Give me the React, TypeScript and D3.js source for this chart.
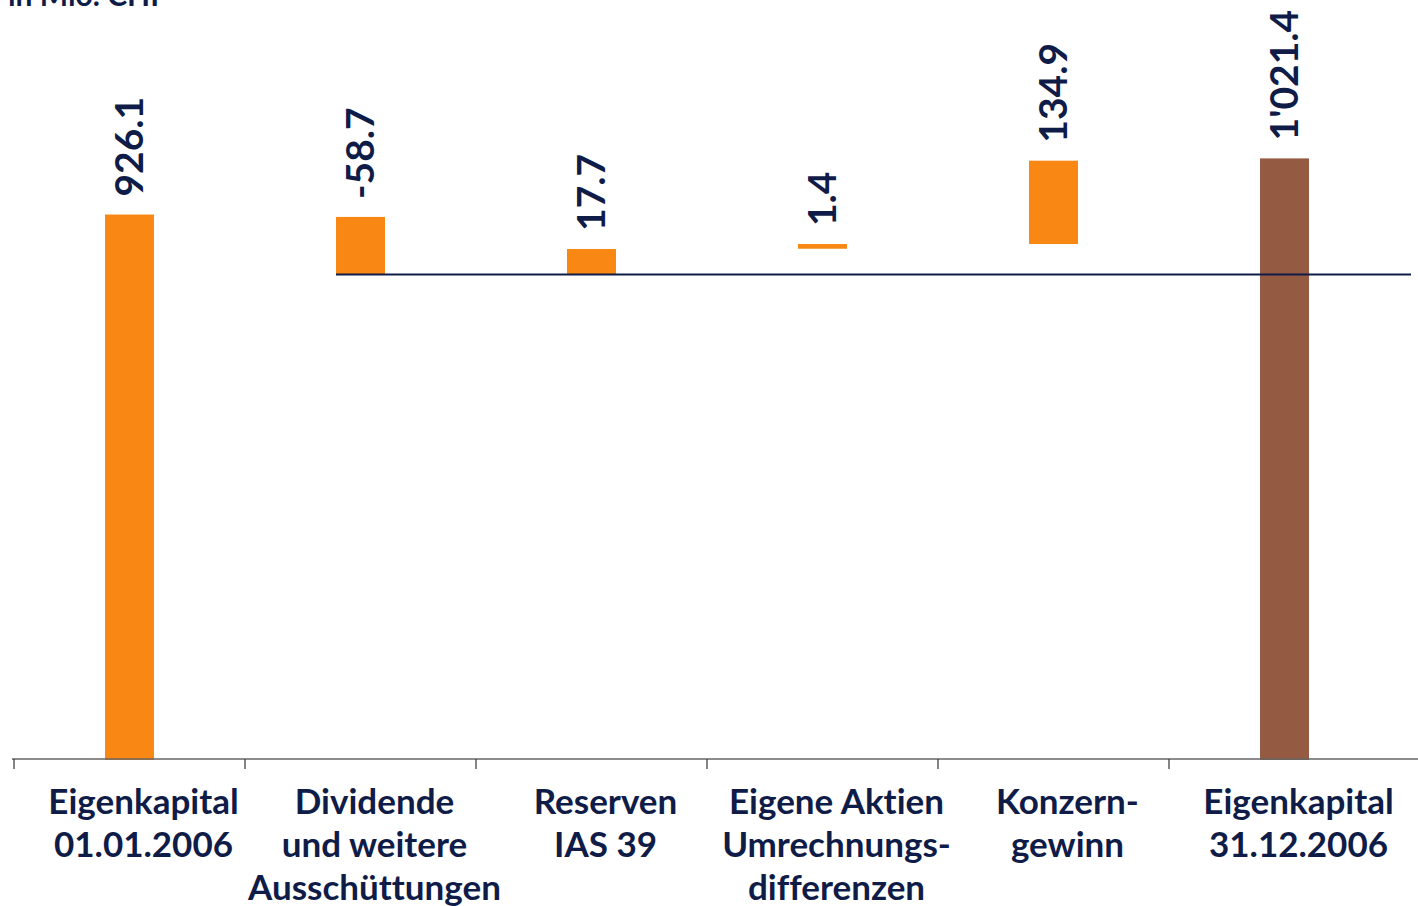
import React from "react";
import * as d3 from "d3";

const categories: string[][] = [
  ["Eigenkapital", "01.01.2006"],
  ["Dividende", "und weitere", "Ausschüttungen"],
  ["Reserven", "IAS 39"],
  ["Eigene Aktien", "Umrechnungs-", "differenzen"],
  ["Konzern-", "gewinn"],
  ["Eigenkapital", "31.12.2006"],
];
const barLow: number[] = [0, 824.3, 824.3, 868, 876, 0];
const barHigh: number[] = [926.1, 922, 867.6, 876, 1017.5, 1021.4];
const valueLabels: string[] = ["926.1", "-58.7", "17.7", "1.4", "134.9", "1'021.4"];
const barKinds: string[] = ["total", "delta", "delta", "delta", "delta", "final"];
const referenceLevel = 824.3;
const unitLabel = "in Mio. CHF";

const W = 1418;
const H = 906;
const NAVY = "#101c48";
const ORANGE = "#f98713";
const BROWN = "#955a42";

export default function App() {
  const ids = categories.map((_, i) => String(i));
  const x = d3.scaleBand<string>().domain(ids).range([14, 1400]).padding(0);
  const y = d3.scaleLinear().domain([0, 1000]).range([760, 171]);
  const barW = x.bandwidth() * 0.212;
  const axisY = 759;
  const refY = y(referenceLevel);
  const refStart = (x("1") as number) + x.bandwidth() / 2 - barW / 2;

  return (
    <svg
      width={W}
      height={H}
      style={{ position: "absolute", left: 0, top: 0, background: "#fff", fontVariantLigatures: "none" }}
      fontFamily="Lato, 'Noto Sans', sans-serif"
    >
      <text x={8} y={6} fontSize={30} fontWeight={700} fill={NAVY}>
        {unitLabel}
      </text>
      {ids.map((id, i) => {
        const cx = (x(id) as number) + x.bandwidth() / 2;
        const top = y(Math.max(barLow[i], barHigh[i]));
        const bot = y(Math.min(barLow[i], barHigh[i]));
        return (
          <g key={id}>
            <rect
              x={cx - barW / 2}
              y={top}
              width={barW}
              height={Math.max(bot - top, 1)}
              fill={barKinds[i] === "final" ? BROWN : ORANGE}
            />
            <text
              transform={`translate(${cx + 13},${top - 18}) rotate(-90)`}
              fontSize={39}
              fontWeight={700}
              fill={NAVY}
            >
              {valueLabels[i]}
            </text>
          </g>
        );
      })}
      <line x1={refStart} x2={1411} y1={refY} y2={refY} stroke={NAVY} strokeWidth={2} />
      <line x1={12} x2={W} y1={axisY} y2={axisY} stroke="#666" strokeWidth={1.5} />
      {ids.map((id) => (
        <line
          key={"t" + id}
          x1={x(id) as number}
          x2={x(id) as number}
          y1={axisY}
          y2={axisY + 10}
          stroke="#333"
          strokeWidth={1.2}
        />
      ))}
      {categories.map((lines, i) => {
        const cx = (x(String(i)) as number) + x.bandwidth() / 2 + 14;
        return (
          <text key={"c" + i} textAnchor="middle" fontSize={35} fontWeight={700} fill={NAVY}>
            {lines.map((l, j) => (
              <tspan key={j} x={cx} y={814 + j * 43}>
                {l}
              </tspan>
            ))}
          </text>
        );
      })}
    </svg>
  );
}
